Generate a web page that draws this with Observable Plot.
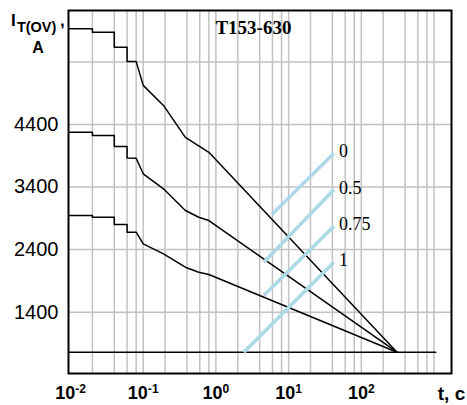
<!DOCTYPE html>
<html><head><meta charset="utf-8">
<script src="https://cdn.jsdelivr.net/npm/d3@7"></script>
<script src="https://cdn.jsdelivr.net/npm/@observablehq/plot@0.6"></script>
<style>
body{margin:0;background:#fff;}
#wrap{position:relative;width:467px;height:405px;}
</style></head><body>
<div id="wrap"></div>
<script>
// ---- text ----
const titleText = "T153-630";
const xAxisLabel = "t, c";
const yLabelMain = "I", yLabelSub = "T(OV)", yLabelComma = ",", yLabelUnit = "A";

// ---- ticks / grid ----
const yTicks = [1400, 2400, 3400, 4400];
const yGrid = [1400, 2400, 3400, 4400, 5400];
const xTicks = [0.01, 0.1, 1, 10, 100];
const xTickExponents = ["-2", "-1", "0", "1", "2"];
const xGrid = [0.02,0.04,0.06,0.08,0.1, 0.2,0.4,0.6,0.8,1, 2,4,6,8,10, 20,40,60,80,100, 200,400,600,800,1000];

// ---- curves (t in s, I in A) ----
const curveTopT = [0.0094,0.02,0.02,0.04,0.04,0.06,0.06,0.08,0.1,0.19,0.38,0.8,310];
const curveTopI = [5930,5930,5875,5875,5635,5635,5405,5405,5025,4705,4195,3955,760];
const curveMidT = [0.0094,0.02,0.02,0.04,0.04,0.06,0.06,0.08,0.1,0.19,0.38,0.58,0.8,310];
const curveMidI = [4275,4275,4225,4225,4050,4050,3865,3860,3612,3372,3025,2918,2865,760];
const curveLowT = [0.0094,0.02,0.02,0.04,0.04,0.06,0.06,0.08,0.1,0.19,0.38,0.58,0.8,310];
const curveLowI = [2945,2945,2918,2918,2801,2801,2678,2678,2493,2333,2119,2039,2002,760];
const baseT = [0.0094, 1050];
const baseI = [760, 760];

// ---- cooling parameter lines ----
const coolLabels = ["0", "0.5", "0.75", "1"];
const coolT1 = [5.9, 4.56, 4.56, 2.42];
const coolI1 = [2961, 2199, 1667, 761];
const coolT2 = [42, 42, 42, 42];
const coolI2 = [3941, 3356, 2774, 2199];

const toPts = (T, I) => T.map((t, i) => ({t, I: I[i]}));
const curves = [toPts(curveTopT, curveTopI), toPts(curveMidT, curveMidI), toPts(curveLowT, curveLowI)];
const base = toPts(baseT, baseI);
const cool = coolLabels.map((label, i) => ({label, t1: coolT1[i], i1: coolI1[i], t2: coolT2[i], i2: coolI2[i]}));

const sans = "Liberation Sans, Arial, sans-serif";
const serif = "Liberation Serif, Times New Roman, serif";
const gridColor = "#c2c2c2";

const plot = Plot.plot({
  width: 467, height: 405,
  marginLeft: 68, marginRight: 16, marginTop: 10, marginBottom: 32,
  x: {type: "log", domain: [0.00938, 1741]},
  y: {domain: [420, 6222]},
  style: {background: "transparent", fontFamily: sans, color: "black"},
  marks: [
    Plot.ruleX(xGrid, {stroke: gridColor, strokeWidth: 1.5}),
    Plot.ruleY(yGrid, {stroke: gridColor, strokeWidth: 1.5}),
    Plot.text([titleText], {frameAnchor: "top", dx: -6.6, dy: 23, lineAnchor: "bottom",
      fontFamily: serif, fontWeight: "bold", fontSize: 19, fill: "black", ariaLabel: "title"}),
    ...curves.map(c => Plot.line(c, {x: "t", y: "I", stroke: "black", strokeWidth: 1.5})),
    Plot.line(base, {x: "t", y: "I", stroke: "black", strokeWidth: 1.7}),
    Plot.link(cool, {x1: "t1", y1: "i1", x2: "t2", y2: "i2", stroke: "#add8e6", strokeWidth: 3.5}),
    Plot.text(cool, {x: "t2", y: "i2", text: "label", textAnchor: "start", dx: 5, dy: -2,
      fontFamily: serif, fontSize: 18, fill: "black"}),
    Plot.axisY(yTicks, {tickSize: 0, tickPadding: 10, fontSize: 20, label: null, fill: "black",
      tickFormat: d => String(d)}),
    Plot.axisX(xTicks, {tickSize: 0, tickPadding: 13, fontSize: 18, fontWeight: "bold", label: null, fill: "black",
      tickFormat: d => "10|" + xTickExponents[xTicks.indexOf(d)]}),
    Plot.text([xAxisLabel], {frameAnchor: "bottom-right", textAnchor: "middle", lineAnchor: "bottom", dy: 26.5,
      fontSize: 19, fontWeight: "bold", fill: "black"}),
    Plot.text([yLabelMain], {frameAnchor: "top-left", textAnchor: "start", lineAnchor: "bottom", dx: -57.4, dy: 15,
      fontSize: 17, fontWeight: "bold", fill: "black"}),
    Plot.text([yLabelSub], {frameAnchor: "top-left", textAnchor: "start", lineAnchor: "bottom", dx: -51.6, dy: 21.5,
      fontSize: 14.5, fontWeight: "bold", fill: "black"}),
    Plot.text([yLabelComma], {frameAnchor: "top-left", textAnchor: "start", lineAnchor: "bottom", dx: -8.6, dy: 15.5,
      fontSize: 17, fontWeight: "bold", fill: "black"}),
    Plot.text([yLabelUnit], {frameAnchor: "top-left", textAnchor: "middle", lineAnchor: "bottom", dx: -30.5, dy: 42.3,
      fontSize: 16, fontWeight: "bold", fill: "black"}),
    Plot.frame({stroke: "black", strokeWidth: 2})
  ]
});
document.getElementById("wrap").appendChild(plot);

// superscripts on x tick labels
d3.select(plot).selectAll('g[aria-label="x-axis tick label"] text').each(function() {
  const [b, e] = this.textContent.split("|");
  this.textContent = b;
  d3.select(this).append("tspan").attr("dy", "-0.5em").attr("font-size", "0.67em").text(e);
});
// white box behind title
d3.select(plot).selectAll('g[aria-label="title"]').each(function() {
  const t = this.querySelector("text");
  const bb = t.getBBox();
  d3.select(this).insert("rect", "text")
    .attr("x", bb.x - 3).attr("y", bb.y - 3).attr("width", bb.width + 6).attr("height", bb.height + 3)
    .attr("fill", "white").attr("transform", t.getAttribute("transform"));
});
</script>
</body></html>
